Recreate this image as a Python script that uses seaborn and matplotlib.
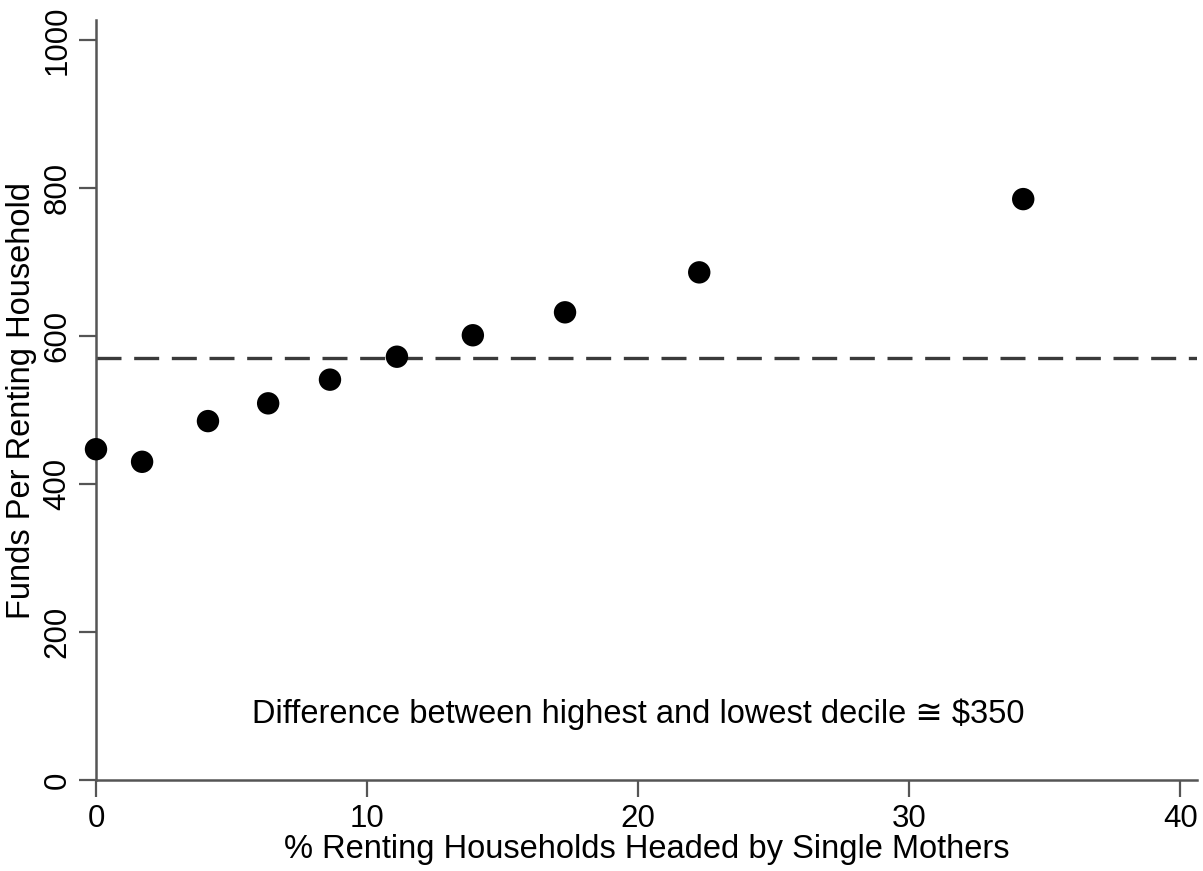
import seaborn as sns
import matplotlib.pyplot as plt
import pandas as pd

# decile points
pct_single_mothers = [0.0, 1.7, 4.13, 6.35, 8.63, 11.1, 13.9, 17.3, 22.25, 34.2]
funds_per_household = [447, 430, 485, 509, 541, 572, 601, 632, 686, 785]
mean_funds = 570
x_ticks = [0, 10, 20, 30, 40]
y_ticks = [0, 200, 400, 600, 800, 1000]
note = "Difference between highest and lowest decile \u2245 $350"

data = pd.DataFrame({"pct": pct_single_mothers, "funds": funds_per_household})

sns.set_style("white")
plt.rcParams["font.family"] = ["Liberation Sans", "DejaVu Sans"]
plt.rcParams["text.color"] = "black"
plt.rcParams["axes.labelcolor"] = "black"
plt.rcParams["xtick.color"] = "#555555"
plt.rcParams["ytick.color"] = "#555555"

fig = plt.figure(figsize=(12.03, 8.71), dpi=100)
ax = fig.add_axes([0.0798, 0.1045, 0.915, 0.8725])

ax.axhline(mean_funds, color="#3a3a3a", lw=2.4, dashes=(7.5, 3.8), zorder=1)
sns.scatterplot(data=data, x="pct", y="funds", ax=ax, color="black",
                s=260, edgecolor="none", zorder=3, clip_on=False)

ax.set_xlim(0, 40.6)
ax.set_ylim(0, 1027)
ax.set_xticks(x_ticks)
ax.set_yticks(y_ticks)
ax.tick_params(axis="both", bottom=True, left=True, labelsize=22.5, length=12,
               width=1.6, direction="out", pad=5, labelcolor="black")
plt.setp(ax.get_yticklabels(), rotation=90, va="center")

for side in ["top", "right"]:
    ax.spines[side].set_visible(False)
for side in ["left", "bottom"]:
    ax.spines[side].set_color("#555555")
    ax.spines[side].set_linewidth(1.8)

ax.set_xlabel("% Renting Households Headed by Single Mothers", fontsize=23.5, labelpad=0)
ax.set_ylabel("Funds Per Renting Household", fontsize=23.5, labelpad=4)

ax.text(20, 89, note, fontsize=23.5, ha="center", va="center")

plt.savefig("out.png", dpi=100)
plt.close()
